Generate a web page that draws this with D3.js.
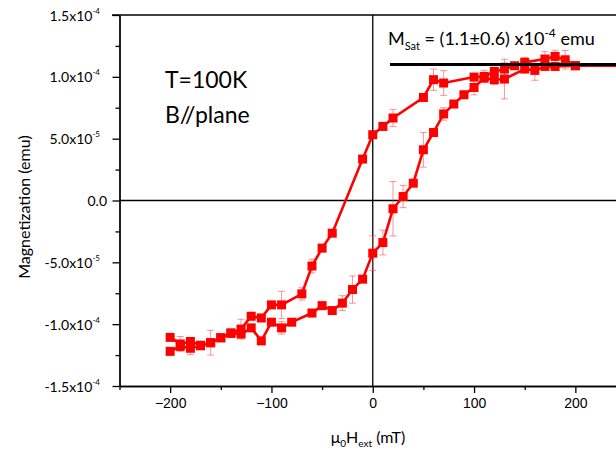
<!DOCTYPE html>
<html>
<head>
<meta charset="utf-8">
<script src="https://cdn.jsdelivr.net/npm/d3@7"></script>
<style>
  body { margin: 0; background: #fff; }
  svg { display: block; font-family: Lato, "Open Sans", sans-serif; }
</style>
</head>
<body>
<div id="container"></div>
<script>
// magnetization values are in units of 1e-5 emu
const fieldDown = [250, 200, 190, 180, 170, 150, 140, 130, 120, 110, 100, 70, 60, 50, 20, 10, 0, -10, -40, -50, -60, -70, -90, -100, -110, -120, -130, -140, -150, -160, -170, -180, -190, -200];
const magDown   = [10.9, 10.9, 11.38, 11.65, 11.44, 11.17, 10.9, 10.63, 10.44, 10.03, 9.98, 9.5, 9.77, 8.33, 6.67, 5.99, 5.32, 3.35, -2.64, -3.85, -5.3, -7.55, -8.44, -8.44, -9.5, -9.36, -10.4, -10.7, -11.1, -11.5, -11.7, -11.4, -11.6, -11.07];
const errDown   = [0, 0.3, 0.75, 0.5, 0.6, 0.4, 0, 0.5, 0.3, 0.5, 0, 1.0, 0.86, 0, 0.7, 0, 0, 0, 0, 0, 0.55, 0.5, 1.1, 0, 0, 0, 0.8, 0, 0, 1.0, 0, 0, 0.6, 0];

const fieldUp = [-200, -190, -180, -170, -160, -150, -140, -130, -120, -110, -100, -90, -80, -60, -50, -40, -30, -20, -10, 0, 10, 20, 30, 40, 50, 60, 70, 80, 90, 100, 110, 120, 130, 150, 160, 170, 180, 200];
const magUp   = [-12.2, -11.8, -11.95, -11.75, -11.5, -11.1, -10.75, -10.8, -10.3, -11.35, -9.84, -10.3, -9.84, -9.1, -8.5, -8.9, -8.3, -7.2, -6.36, -4.26, -3.4, -0.67, 0.32, 1.4, 4.1, 5.5, 7.0, 7.8, 8.55, 9.14, 9.9, 9.77, 9.82, 10.63, 10.52, 10.84, 10.84, 10.9];
const errUp   = [0, 0, 0.5, 0, 0, 0, 0, 0, 0, 0, 0, 0.5, 0, 0, 0, 0, 0.6, 1.1, 0, 1.4, 1.0, 2.2, 0.9, 0, 1.4, 0, 0.5, 0, 0, 0.6, 0, 0.4, 1.6, 0, 0.8, 0, 0, 0];

const xTicks = [-200, -100, 0, 100, 200];
const xMinorTicks = [-250, -150, -50, 50, 150, 250];
const yTicks = [-1.5e-4, -1.0e-4, -5e-5, 0, 5e-5, 1.0e-4, 1.5e-4];
const yMinorTicks = [-1.25e-4, -7.5e-5, -2.5e-5, 2.5e-5, 7.5e-5, 1.25e-4];
const yTickBase = ["-1.5x10", "-1.0x10", "-5.0x10", "0.0", "5.0x10", "1.0x10", "1.5x10"];
const yTickExp  = ["-4", "-4", "-5", "", "-5", "-4", "-4"];

const mSat = 1.1e-4;
const mSatStart = 17;

const W = 616, H = 452;
const svg = d3.select("#container").append("svg")
  .attr("width", W).attr("height", H);

const x = d3.scaleLinear().domain([-250, 250]).range([119.5, 626]);
const y = d3.scaleLinear().domain([-1.5e-4, 1.5e-4]).range([386, 15]);

/* AXES */
const xAxis = svg.append("g").attr("transform", "translate(0,386)")
  .call(d3.axisBottom(x).tickValues(xTicks).tickSize(7).tickSizeOuter(0).tickPadding(5));
svg.append("g").attr("transform", "translate(0,386)")
  .call(d3.axisBottom(x).tickValues(xMinorTicks).tickSize(4).tickFormat("").tickSizeOuter(0));
xAxis.selectAll("text").style("font-size", "14px").attr("fill", "#000");

svg.append("g").attr("transform", "translate(119.5,0)")
  .call(d3.axisLeft(y).tickValues(yTicks).tickSize(7).tickSizeOuter(0).tickFormat(""));
svg.append("g").attr("transform", "translate(119.5,0)")
  .call(d3.axisLeft(y).tickValues(yMinorTicks).tickSize(4).tickFormat("").tickSizeOuter(0));

svg.selectAll(".domain, .tick line").attr("stroke", "#000").attr("stroke-width", 1.3);

yTicks.forEach((v, i) => {
  const t = svg.append("text")
    .attr("x", yTickExp[i] ? 100 : 107)
    .attr("y", y(v) + 5.5)
    .attr("text-anchor", "end")
    .style("font-size", "14px");
  t.append("tspan").text(yTickBase[i]);
  if (yTickExp[i]) {
    t.append("tspan").attr("dy", -7).style("font-size", "8px").text(yTickExp[i]);
  }
});

// top frame
svg.append("line")
  .attr("x1", 112).attr("x2", x(250)).attr("y1", y(1.5e-4)).attr("y2", y(1.5e-4))
  .attr("stroke", "#000").attr("stroke-width", 1.3);

// zero lines
svg.append("line")
  .attr("x1", x(0)).attr("x2", x(0)).attr("y1", y(1.5e-4)).attr("y2", y(-1.5e-4))
  .attr("stroke", "#000").attr("stroke-width", 1.3);
svg.append("line")
  .attr("x1", x(-250)).attr("x2", x(250)).attr("y1", y(0)).attr("y2", y(0))
  .attr("stroke", "#000").attr("stroke-width", 1.3);

/* DATA */
const branches = [
  fieldDown.map((f, i) => ({f: f, m: magDown[i] * 1e-5, e: errDown[i] * 1e-5})),
  fieldUp.map((f, i) => ({f: f, m: magUp[i] * 1e-5, e: errUp[i] * 1e-5}))
];

const errColor = "rgba(255,60,60,0.55)";
branches.forEach(data => {
  const eb = svg.append("g").selectAll("g")
    .data(data.filter(d => d.e > 0))
    .join("g");
  eb.append("line")
    .attr("x1", d => x(d.f)).attr("x2", d => x(d.f))
    .attr("y1", d => y(d.m - d.e)).attr("y2", d => y(d.m + d.e))
    .attr("stroke", errColor).attr("stroke-width", 1);
  [-1, 1].forEach(s => {
    eb.append("line")
      .attr("x1", d => x(d.f) - 3.5).attr("x2", d => x(d.f) + 3.5)
      .attr("y1", d => y(d.m + s * d.e)).attr("y2", d => y(d.m + s * d.e))
      .attr("stroke", errColor).attr("stroke-width", 1);
  });
});

const line = d3.line().x(d => x(d.f)).y(d => y(d.m));
branches.forEach(data => {
  svg.append("path")
    .datum(data)
    .attr("d", line)
    .attr("fill", "none")
    .attr("stroke", "#ff0000")
    .attr("stroke-width", 2.6);
  svg.append("g").selectAll("rect")
    .data(data)
    .join("rect")
    .attr("x", d => x(d.f) - 4.5)
    .attr("y", d => y(d.m) - 4.5)
    .attr("width", 9).attr("height", 9)
    .attr("fill", "#ff0000");
});

// saturation line
svg.append("line")
  .attr("x1", x(mSatStart)).attr("x2", x(250))
  .attr("y1", y(mSat)).attr("y2", y(mSat))
  .attr("stroke", "#000").attr("stroke-width", 3);

/* TEXT */
const sat = svg.append("text").attr("x", 388).attr("y", 45).style("font-size", "18px");
sat.append("tspan").text("M");
sat.append("tspan").attr("dy", 5).style("font-size", "11px").text("Sat");
sat.append("tspan").attr("dy", -5).text(" = (1.1±0.6) x10");
sat.append("tspan").attr("dy", -8).style("font-size", "12px").text("-4");
sat.append("tspan").attr("dy", 8).text(" emu");

svg.append("text").attr("x", 165).attr("y", 88).style("font-size", "23px").text("T=100K");
svg.append("text").attr("x", 165).attr("y", 123).style("font-size", "23px").text("B//plane");

svg.append("text")
  .attr("transform", "translate(30,207) rotate(-90)")
  .attr("text-anchor", "middle")
  .style("font-size", "16px")
  .text("Magnetization (emu)");

const xl = svg.append("text").attr("x", 368).attr("y", 443)
  .attr("text-anchor", "middle").style("font-size", "16px");
xl.append("tspan").text("μ");
xl.append("tspan").attr("dy", 4).style("font-size", "10px").text("0");
xl.append("tspan").attr("dy", -4).text("H");
xl.append("tspan").attr("dy", 4).style("font-size", "10px").text("ext");
xl.append("tspan").attr("dy", -4).text(" (mT)");
</script>
</body>
</html>
